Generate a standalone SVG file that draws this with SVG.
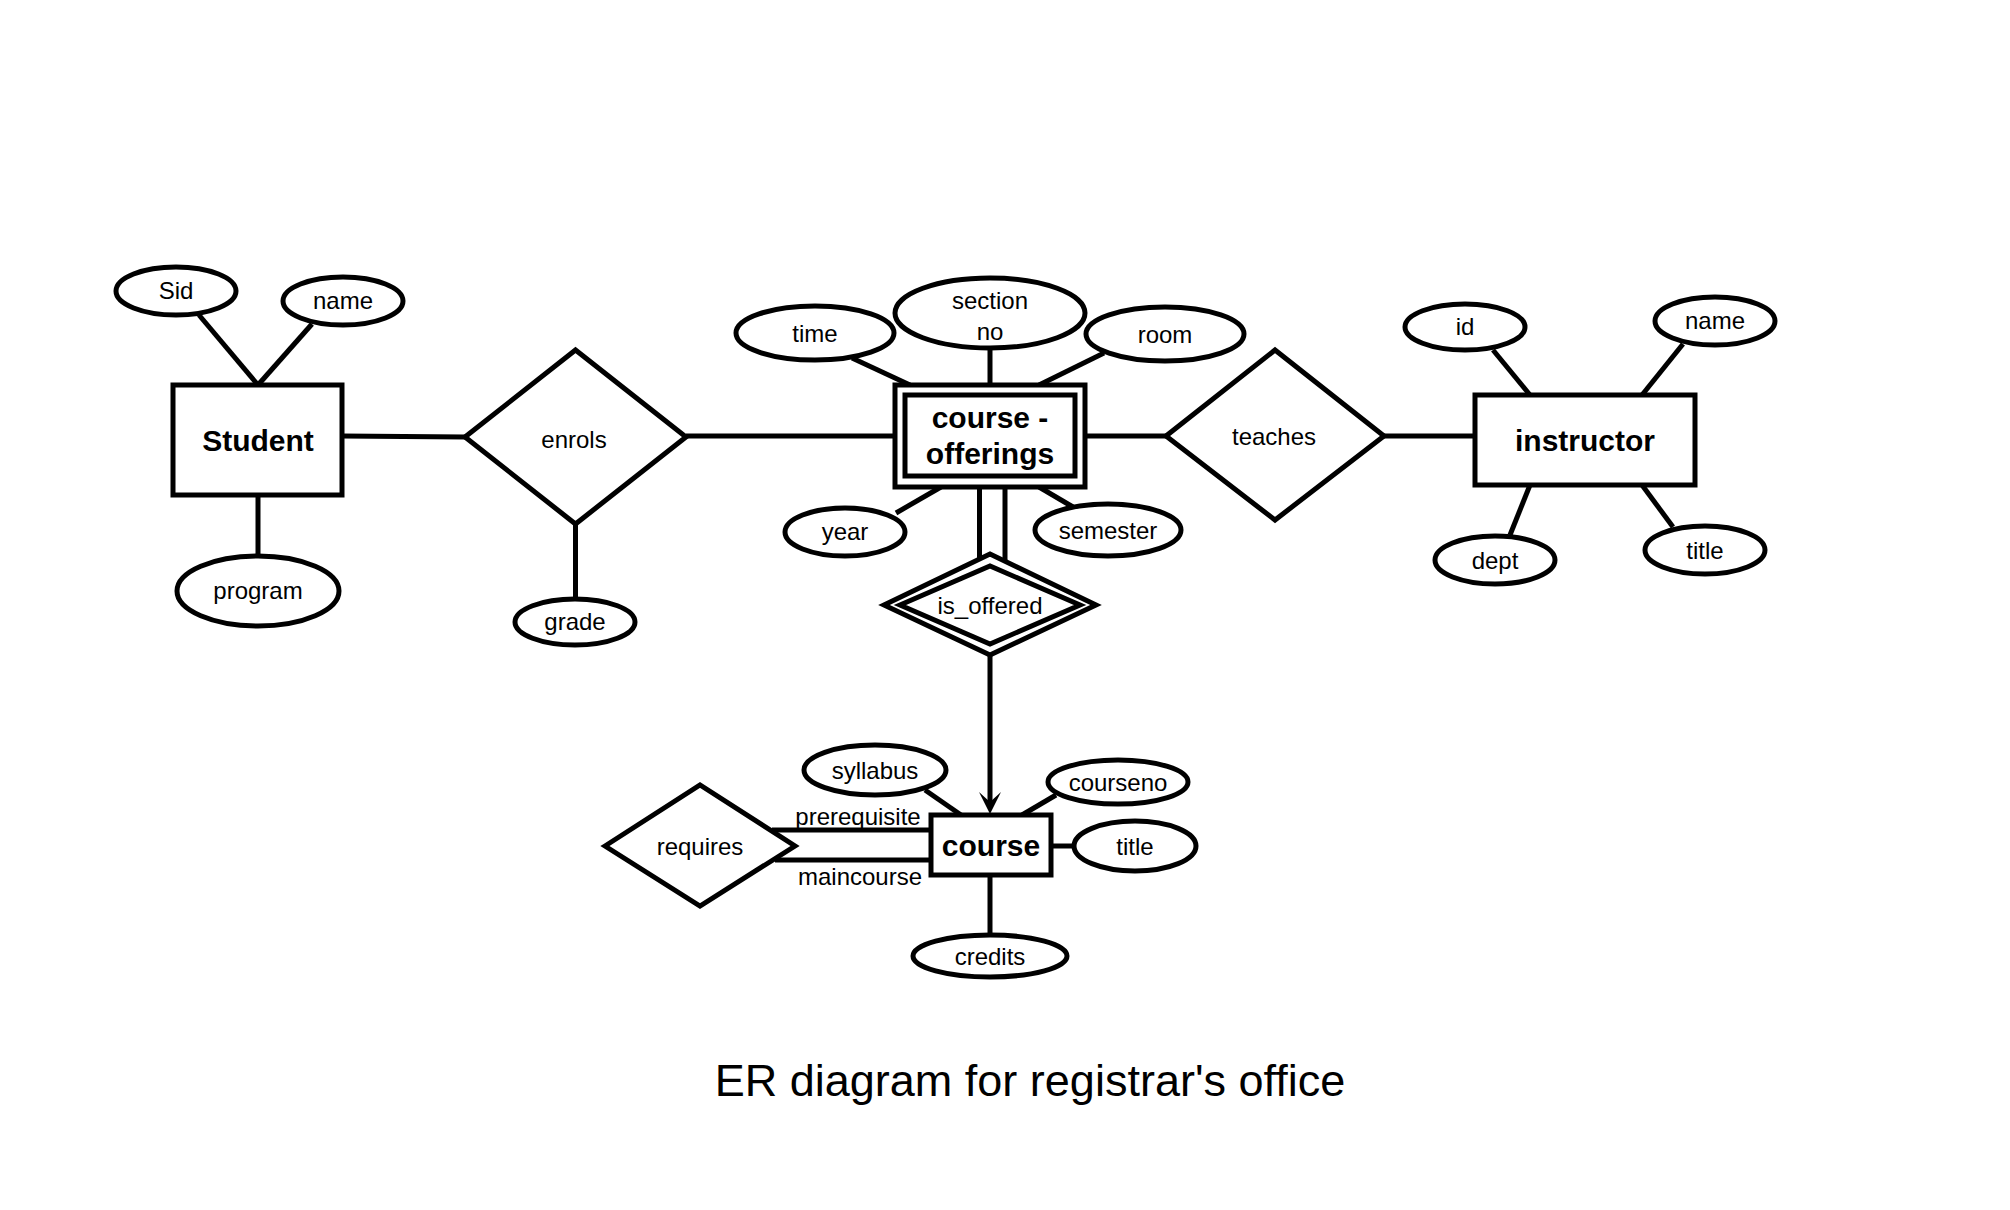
<svg xmlns="http://www.w3.org/2000/svg" width="2010" height="1210" viewBox="0 0 2010 1210">
<defs>
<style>
.s{fill:#fff;stroke:#000;stroke-width:5}
.n{fill:none;stroke:#000;stroke-width:5}
.l{stroke:#000;stroke-width:5;fill:none}
.t{font-family:"Liberation Sans",Arial,Helvetica,sans-serif;font-size:24px;text-anchor:middle;fill:#000}
.b{font-family:"Liberation Sans",Arial,Helvetica,sans-serif;font-size:30px;font-weight:bold;text-anchor:middle;fill:#000}
</style>
<marker id="arr" markerUnits="userSpaceOnUse" markerWidth="24" markerHeight="24" refX="10" refY="12" orient="auto" overflow="visible">
<path d="M0,1 L22,12 L0,23 L10,12 Z" fill="#000"/>
</marker>
</defs>
<rect width="2010" height="1210" fill="#fff"/>
<g id="connectors">
<line class="l" x1="199" y1="315" x2="258" y2="385"/>
<line class="l" x1="312" y1="324" x2="258" y2="385"/>
<line class="l" x1="258" y1="495" x2="258" y2="556"/>
<line class="l" x1="342" y1="436" x2="465" y2="437"/>
<line class="l" x1="575.5" y1="524" x2="575.5" y2="599"/>
<line class="l" x1="686" y1="436" x2="895" y2="436"/>
<line class="l" x1="852" y1="358" x2="910" y2="385"/>
<line class="l" x1="990" y1="347" x2="990" y2="385"/>
<line class="l" x1="1104" y1="353" x2="1039" y2="385"/>
<line class="l" x1="941" y1="487" x2="896" y2="513"/>
<line class="l" x1="1039" y1="487" x2="1073" y2="507"/>
<line class="l" x1="979.5" y1="487" x2="979.5" y2="559"/>
<line class="l" x1="1005" y1="487" x2="1005" y2="561"/>
<line class="l" x1="1085" y1="436" x2="1166" y2="436"/>
<line class="l" x1="1384" y1="436" x2="1475" y2="436"/>
<line class="l" x1="1493" y1="350" x2="1530" y2="395"/>
<line class="l" x1="1683" y1="344" x2="1642" y2="395"/>
<line class="l" x1="1530" y1="485" x2="1510" y2="535"/>
<line class="l" x1="1642" y1="485" x2="1673" y2="527"/>
<line class="l" x1="990" y1="655" x2="990" y2="802" marker-end="url(#arr)"/>
<line class="l" x1="925" y1="790" x2="961" y2="815"/>
<line class="l" x1="1056" y1="795" x2="1022" y2="815"/>
<line class="l" x1="1051" y1="846" x2="1073" y2="846"/>
<line class="l" x1="990" y1="875" x2="990" y2="935"/>
<line class="l" x1="772" y1="830" x2="931" y2="830"/>
<line class="l" x1="775" y1="860" x2="931" y2="860"/>
<text class="t" x="858" y="825">prerequisite</text>
<text class="t" x="860" y="885">maincourse</text>
</g>
<g id="student"><rect class="s" x="173" y="385" width="169" height="110"/><text class="b" x="258" y="451">Student</text></g>
<g id="sid"><ellipse class="s" cx="176" cy="291" rx="60" ry="24"/><text class="t" x="176" y="299">Sid</text></g>
<g id="sname"><ellipse class="s" cx="343" cy="301" rx="60" ry="24"/><text class="t" x="343" y="309">name</text></g>
<g id="program"><ellipse class="s" cx="258" cy="591" rx="81" ry="35"/><text class="t" x="258" y="599">program</text></g>
<g id="enrols"><polygon class="s" points="465,437 575.5,350 686,437 575.5,524"/><text class="t" x="574" y="448">enrols</text></g>
<g id="grade"><ellipse class="s" cx="575" cy="622" rx="60" ry="23"/><text class="t" x="575" y="630">grade</text></g>
<g id="course-offerings"><rect class="s" x="895" y="385" width="190" height="102"/><rect class="n" x="905" y="395" width="170" height="81"/><text class="b" x="990" y="428">course -</text><text class="b" x="990" y="464">offerings</text></g>
<g id="time"><ellipse class="s" cx="815" cy="333" rx="79" ry="27"/><text class="t" x="815" y="342">time</text></g>
<g id="sectionno"><ellipse class="s" cx="990" cy="313" rx="95" ry="35"/><text class="t" x="990" y="309">section</text><text class="t" x="990" y="340">no</text></g>
<g id="room"><ellipse class="s" cx="1165" cy="334" rx="79" ry="27"/><text class="t" x="1165" y="343">room</text></g>
<g id="year"><ellipse class="s" cx="845" cy="532" rx="60" ry="24"/><text class="t" x="845" y="540">year</text></g>
<g id="semester"><ellipse class="s" cx="1108" cy="530" rx="73" ry="26"/><text class="t" x="1108" y="539">semester</text></g>
<g id="is_offered"><polygon class="s" points="884,605 990,554 1096,605 990,655"/><polygon class="n" points="900,605 990,566 1080,605 990,644"/><text class="t" x="990" y="614">is_offered</text></g>
<g id="teaches"><polygon class="s" points="1166,436 1275,350 1384,436 1275,520"/><text class="t" x="1274" y="445">teaches</text></g>
<g id="instructor"><rect class="s" x="1475" y="395" width="220" height="90"/><text class="b" x="1585" y="451">instructor</text></g>
<g id="iid"><ellipse class="s" cx="1465" cy="327" rx="60" ry="23"/><text class="t" x="1465" y="335">id</text></g>
<g id="iname"><ellipse class="s" cx="1715" cy="321" rx="60" ry="24"/><text class="t" x="1715" y="329">name</text></g>
<g id="dept"><ellipse class="s" cx="1495" cy="560" rx="60" ry="24"/><text class="t" x="1495" y="569">dept</text></g>
<g id="ititle"><ellipse class="s" cx="1705" cy="550" rx="60" ry="24"/><text class="t" x="1705" y="559">title</text></g>
<g id="course"><rect class="s" x="931" y="815" width="120" height="60"/><text class="b" x="991" y="856">course</text></g>
<g id="syllabus"><ellipse class="s" cx="875" cy="770" rx="71" ry="25"/><text class="t" x="875" y="779">syllabus</text></g>
<g id="courseno"><ellipse class="s" cx="1118" cy="782" rx="70" ry="22"/><text class="t" x="1118" y="791">courseno</text></g>
<g id="ctitle"><ellipse class="s" cx="1135" cy="846" rx="61" ry="25"/><text class="t" x="1135" y="855">title</text></g>
<g id="credits"><ellipse class="s" cx="990" cy="956" rx="77" ry="21"/><text class="t" x="990" y="965">credits</text></g>
<g id="requires"><polygon class="s" points="605,846 700,785 795,846 700,906"/><text class="t" x="700" y="855">requires</text></g>
<text x="1030" y="1096" font-family="Liberation Sans, Arial, sans-serif" font-size="45" text-anchor="middle" fill="#000">ER diagram for registrar's office</text>
</svg>
